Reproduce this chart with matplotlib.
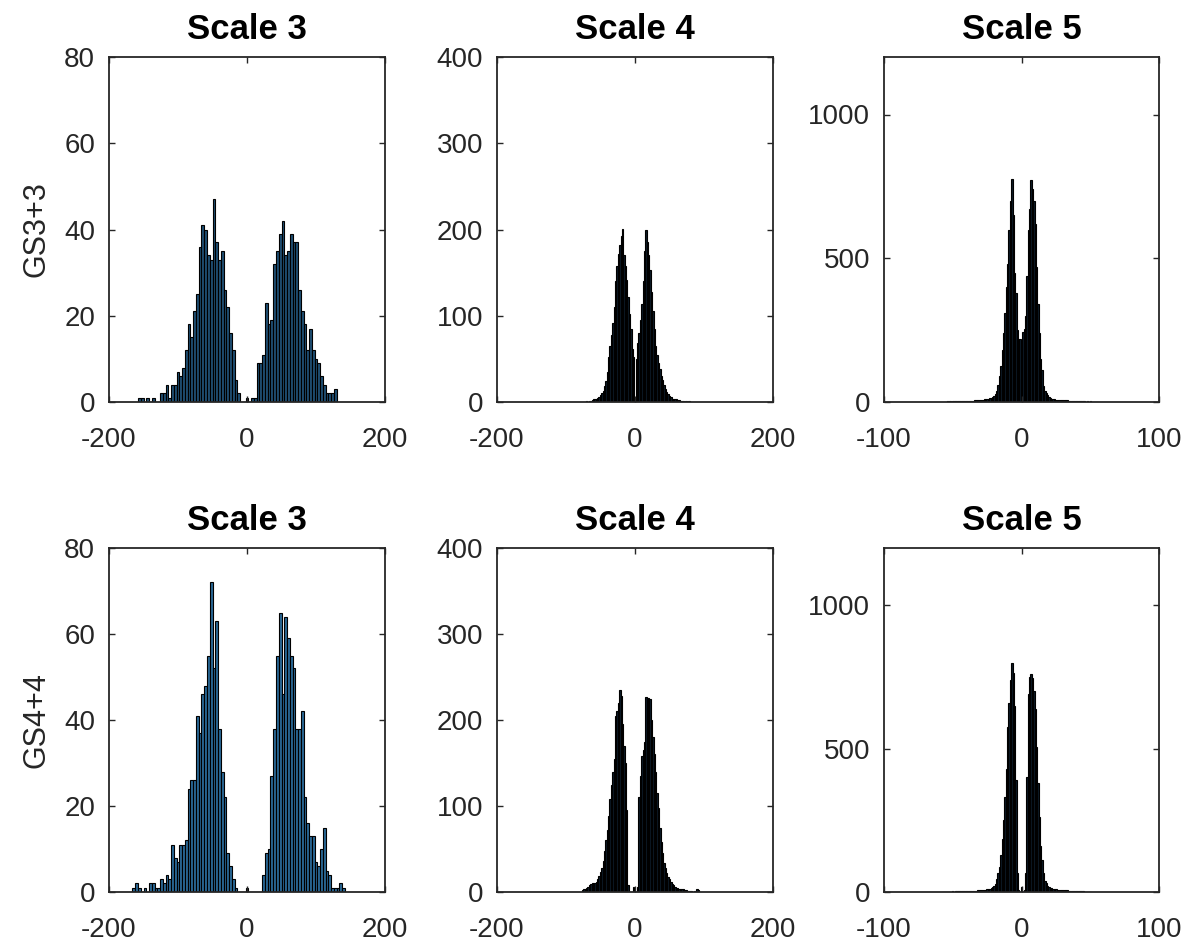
import numpy as np
import matplotlib
matplotlib.use('Agg')
import matplotlib.pyplot as plt

plt.rcParams['font.family'] = ['Liberation Sans', 'DejaVu Sans']
plt.rcParams['axes.unicode_minus'] = False

# histogram counts (start = first bin centre, w = bin width)
s3_gs3_start, s3_gs3_w = -156, 4
s3_gs3 = [1, 1, 0, 1, 0, 1, 0, 0, 2, 2, 4, 1, 4, 4, 7, 6, 8, 12, 18, 15,
          21, 25, 36, 41, 40, 34, 33, 47, 37, 33, 35, 26, 22, 16, 12, 5, 2,
          0, 0, 1, 0, 1, 1,
          9, 9, 11, 23, 18, 19, 32, 35, 39, 42, 34, 35, 39, 37, 37, 26, 21,
          18, 12, 17, 12, 10, 9, 6, 4, 2, 2, 2, 3]

s3_gs4_start, s3_gs4_w = -164, 4
s3_gs4 = [1, 2, 1, 0, 1, 0, 2, 2, 1, 1, 3, 2, 4, 3, 11, 8, 7, 11, 11, 12,
          24, 26, 26, 41, 37, 46, 48, 55, 72, 52, 63, 38, 28, 22, 9, 6, 3, 1,
          0, 0, 0, 1, 0, 0, 0, 0, 0,
          4, 9, 10, 27, 38, 55, 65, 46, 64, 59, 55, 52, 38, 38, 42, 22, 16,
          13, 13, 7, 6, 10, 15, 5, 4, 1, 1, 1, 2, 1]

s4_gs3_start, s4_gs3_w = -70, 2
s4_gs3 = [1, 0, 1, 1, 2, 3, 3, 4, 5, 6, 8, 10, 13, 18, 24, 35, 52, 65, 78, 92,
          110, 140, 158, 172, 182, 192, 201, 170, 158, 141, 122, 102, 85, 62,
          52, 3, 50, 68, 80, 95, 114, 140, 175, 199, 185, 170, 153, 128, 105,
          85, 65, 55, 45, 38, 30, 25, 20, 15, 12, 9, 7, 6, 4, 4, 3, 3, 2, 2,
          1, 1, 1, 0, 1, 0, 1]

s4_gs4_start, s4_gs4_w = -76, 2
s4_gs4 = [2, 3, 4, 5, 6, 8, 9, 10, 10, 11, 12, 15, 19, 23, 28, 36, 48, 60, 72,
          88, 108, 125, 140, 155, 205, 210, 220, 235, 228, 195, 170, 150, 95,
          8, 0, 0, 0, 6, 0, 0, 6, 110, 135, 158, 165, 175, 227, 226, 226, 225,
          200, 180, 160, 140, 115, 98, 75, 58, 45, 34, 28, 22, 18, 15, 12, 9,
          8, 6, 5, 5, 4, 3, 3, 3, 2, 2, 1, 1, 1, 1, 0, 1, 0, 4, 2]

s5_gs3_start, s5_gs3_w = -55, 1
s5_gs3 = [1, 2, 1, 2, 1, 2, 2, 2, 3, 2, 3, 3, 3, 3, 4, 4, 4, 5, 5, 5, 5, 6, 6,
          6, 7, 7, 8, 8, 9, 9, 10, 12, 13, 15, 18, 20, 28, 40, 60, 90, 125,
          180, 240, 310, 400, 480, 600, 700, 776, 650, 450, 380, 250, 218, 220,
          80, 245, 255, 300, 440, 600, 670, 771, 740, 700, 620, 470, 340, 240,
          150, 110, 55, 40, 30, 24, 18, 14, 12, 10, 9, 8, 8, 7, 7, 7, 6, 6, 6,
          6, 5, 5, 4, 4, 4, 3, 3, 3, 3, 2, 2, 2, 2, 1, 2, 1, 2, 1, 1, 1, 1, 1]

s5_gs4_start, s5_gs4_w = -57, 1
s5_gs4 = [1, 1, 0, 1, 1, 1, 1, 2, 1, 2, 2, 2, 2, 3, 3, 3, 3, 3, 4, 4, 4, 5, 5,
          5, 5, 6, 6, 6, 7, 7, 8, 8, 9, 10, 11, 13, 16, 20, 28, 45, 65, 88, 130,
          185, 250, 330, 430, 577, 658, 740, 800, 763, 650, 390, 65, 7, 0, 19,
          0, 6, 65, 400, 690, 751, 759, 745, 700, 640, 507, 380, 260, 160, 110,
          65, 40, 30, 22, 18, 15, 13, 12, 10, 9, 8, 8, 7, 7, 6, 6, 6, 6, 5, 5,
          4, 4, 4, 3, 3, 3, 3, 2, 2, 2, 1, 1, 1, 1, 1]

titles = ['Scale 3', 'Scale 4', 'Scale 5']
row_labels = ['GS3+3', 'GS4+4']
xlims = [(-200, 200), (-200, 200), (-100, 100)]
xticks = [[-200, 0, 200], [-200, 0, 200], [-100, 0, 100]]
ylims = [(0, 80), (0, 400), (0, 1200)]
yticks = [[0, 20, 40, 60, 80], [0, 100, 200, 300, 400], [0, 500, 1000]]

data = [[(s3_gs3_start, s3_gs3_w, s3_gs3), (s4_gs3_start, s4_gs3_w, s4_gs3), (s5_gs3_start, s5_gs3_w, s5_gs3)],
        [(s3_gs4_start, s3_gs4_w, s3_gs4), (s4_gs4_start, s4_gs4_w, s4_gs4), (s5_gs4_start, s5_gs4_w, s5_gs4)]]

W, H = 1196, 948
fig = plt.figure(figsize=(W / 100, H / 100), dpi=100)

col_left = [109, 497, 884]
col_w = [276, 276, 275]
row_top = [57, 548]
row_h = [345, 344]

ink = '#262626'
faces = [['#1f4f73', '#0d1c28', '#0d1c28'],
         ['#2a6896', '#0d1c28', '#0d1c28']]

for r in range(2):
    for c in range(3):
        ax = fig.add_axes([col_left[c] / W, 1 - (row_top[r] + row_h[r]) / H,
                           col_w[c] / W, row_h[r] / H])
        start, w, counts = data[r][c]
        centers = start + w * np.arange(len(counts))
        ax.bar(centers, counts, width=w, color=faces[r][c], edgecolor='black',
               linewidth=0.8, align='center')
        ax.set_xlim(*xlims[c])
        ax.set_ylim(*ylims[c])
        ax.set_xticks(xticks[c])
        ax.set_yticks(yticks[c])
        ax.tick_params(direction='in', length=4, width=1, colors=ink,
                       labelsize=20, top=True, right=True)
        ax.tick_params(axis='x', pad=18)
        ax.tick_params(axis='y', pad=10)
        for sp in ax.spines.values():
            sp.set_color(ink)
            sp.set_linewidth(1.3)
        ax.set_title(titles[c], fontsize=25, fontweight='bold', color='black', pad=13)
        if c == 0:
            ax.set_ylabel(row_labels[r], fontsize=22, color=ink, labelpad=9)

fig.savefig('out.png', dpi=100)
